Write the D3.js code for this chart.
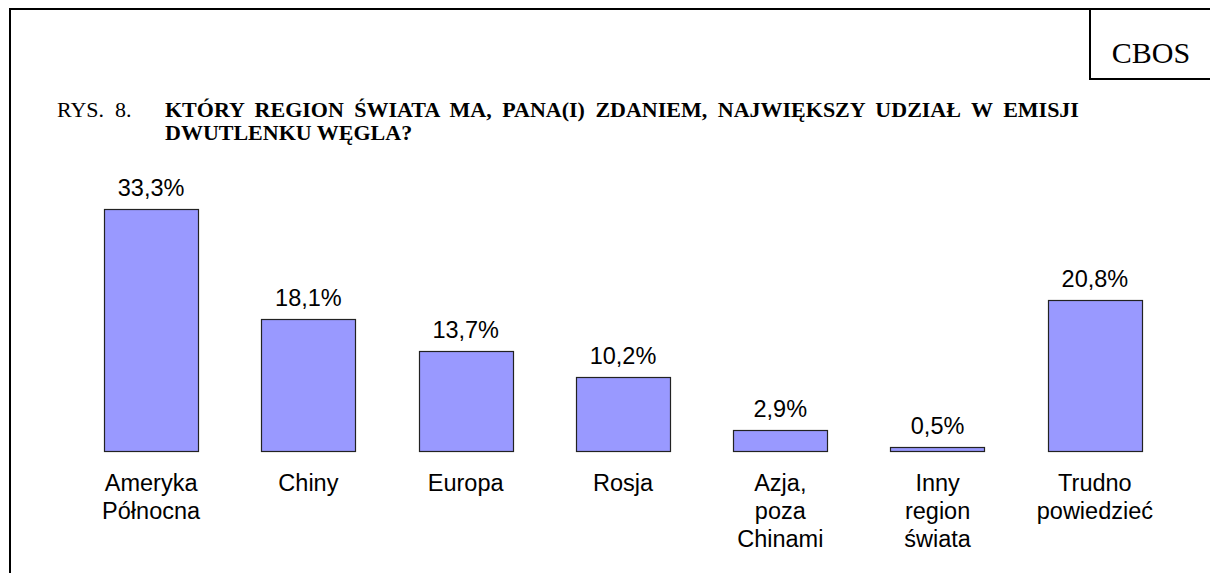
<!DOCTYPE html>
<html>
<head>
<meta charset="utf-8">
<script src="https://cdn.jsdelivr.net/npm/d3@7"></script>
<style>
  body { margin: 0; background: #fff; }
  svg { display: block; }
</style>
</head>
<body>
<div id="chart"></div>
<script>
var categories = [
  ["Ameryka", "Północna"],
  ["Chiny"],
  ["Europa"],
  ["Rosja"],
  ["Azja,", "poza", "Chinami"],
  ["Inny", "region", "świata"],
  ["Trudno", "powiedzieć"]
];
var values = [33.3, 18.1, 13.7, 10.2, 2.9, 0.5, 20.8];
var valueLabels = ["33,3%", "18,1%", "13,7%", "10,2%", "2,9%", "0,5%", "20,8%"];
var titleLines = [
  "KTÓRY REGION ŚWIATA MA, PANA(I) ZDANIEM, NAJWIĘKSZY UDZIAŁ W EMISJI",
  "DWUTLENKU WĘGLA?"
];

var width = 1210, height = 573;
var svg = d3.select("#chart").append("svg")
    .attr("width", width)
    .attr("height", height);

// frame: top and left lines, CBOS box
svg.append("path")
    .attr("d", "M10,573V9H1210")
    .attr("fill", "none")
    .attr("stroke", "#000")
    .attr("stroke-width", 2);
svg.append("path")
    .attr("d", "M1090,9V79H1210")
    .attr("fill", "none")
    .attr("stroke", "#000")
    .attr("stroke-width", 2);
svg.append("text")
    .attr("x", 1151)
    .attr("y", 63)
    .attr("text-anchor", "middle")
    .style("font-family", "'Liberation Serif', 'Times New Roman', serif")
    .style("font-size", "30px")
    .text("CBOS");

// title (first line justified, so a bit of extra word spacing)
var title = svg.append("g")
    .style("font-family", "'Liberation Serif', 'Times New Roman', serif")
    .style("font-size", "22px");
title.append("text")
    .attr("x", 57)
    .attr("y", 117)
    .text("RYS.");
title.append("text")
    .attr("x", 115)
    .attr("y", 117)
    .text("8.");
title.selectAll("text.t")
    .data(titleLines)
  .enter().append("text")
    .attr("class", "t")
    .attr("x", 165)
    .attr("y", function(d, i) { return 117 + i * 23; })
    .style("font-weight", "bold")
    .style("word-spacing", function(d, i) { return i === 0 ? "5px" : "0px"; })
    .text(function(d) { return d; });

// scales
var x = d3.scaleBand()
    .domain(d3.range(values.length))
    .range([41, 1205])
    .padding(0.4);
var y = d3.scaleLinear()
    .domain([0, 35])
    .range([450.5, 450.5 - 35 * 7.24]);

var g = svg.append("g")
    .style("font-family", "Arial, 'Liberation Sans', sans-serif")
    .style("font-size", "23.5px");

g.selectAll("rect")
    .data(values)
  .enter().append("rect")
    .attr("x", function(d, i) { return Math.round(x(i)) + 0.5; })
    .attr("y", function(d) { return Math.round(y(d)) + 0.5; })
    .attr("width", Math.round(x.bandwidth()))
    .attr("height", function(d) { return Math.round(y(0)) - Math.round(y(d)); })
    .attr("fill", "#9999ff")
    .attr("stroke", "#222")
    .attr("stroke-width", 1.2);

g.selectAll("text.val")
    .data(values)
  .enter().append("text")
    .attr("class", "val")
    .attr("x", function(d, i) { return x(i) + x.bandwidth() / 2; })
    .attr("y", function(d) { return y(d) - 13; })
    .attr("text-anchor", "middle")
    .attr("fill", "#000")
    .text(function(d, i) { return valueLabels[i]; });

var cat = g.selectAll("text.cat")
    .data(categories)
  .enter().append("text")
    .attr("class", "cat")
    .attr("x", function(d, i) { return x(i) + x.bandwidth() / 2; })
    .attr("y", 491)
    .attr("text-anchor", "middle")
    .attr("fill", "#000");
cat.selectAll("tspan")
    .data(function(d, i) { return d.map(function(s) { return {s: s, i: i}; }); })
  .enter().append("tspan")
    .attr("x", function(d) { return x(d.i) + x.bandwidth() / 2; })
    .attr("dy", function(d, j) { return j === 0 ? 0 : 28; })
    .text(function(d) { return d.s; });
</script>
</body>
</html>
